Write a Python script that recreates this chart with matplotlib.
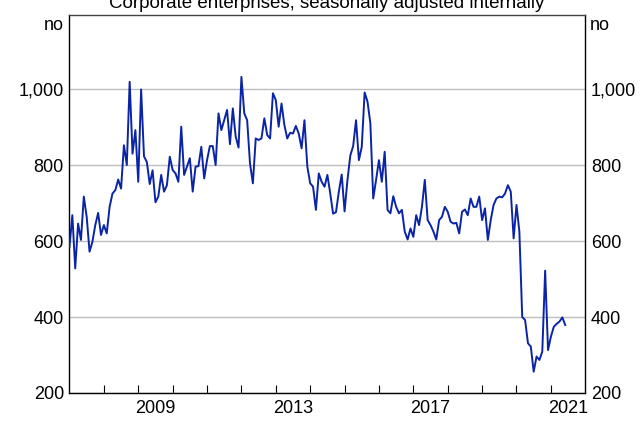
import numpy as np
import matplotlib
matplotlib.use('Agg')
import matplotlib.pyplot as plt
from matplotlib.ticker import FuncFormatter

plt.rcParams['font.family'] = ['Liberation Sans', 'DejaVu Sans']

# monthly values, first point is January 2007
start_year = 2007
v2007 = [585, 668, 528, 646, 603, 717, 664, 572, 598, 642, 674, 616]
v2008 = [642, 620, 690, 725, 734, 762, 738, 852, 800, 1019, 830, 892]
v2009 = [756, 999, 823, 808, 750, 786, 702, 717, 774, 730, 747, 822]
v2010 = [787, 778, 756, 901, 774, 796, 818, 730, 796, 797, 848, 765]
v2011 = [813, 850, 850, 800, 936, 892, 918, 945, 855, 949, 875, 846]
v2012 = [1032, 936, 918, 804, 752, 870, 866, 870, 923, 879, 870, 989]
v2013 = [971, 901, 962, 905, 870, 885, 883, 903, 883, 844, 918, 796]
v2014 = [752, 743, 682, 778, 756, 743, 774, 725, 672, 676, 730, 775]
v2015 = [678, 760, 825, 850, 918, 813, 848, 991, 967, 910, 712, 761]
v2016 = [813, 756, 835, 682, 673, 718, 690, 673, 682, 625, 604, 633]
v2017 = [611, 668, 642, 690, 761, 655, 642, 625, 604, 655, 664, 690]
v2018 = [677, 651, 646, 648, 620, 677, 683, 668, 712, 690, 690, 717]
v2019 = [655, 686, 603, 655, 695, 712, 717, 715, 725, 747, 730, 607]
v2020 = [695, 625, 400, 392, 331, 322, 256, 296, 287, 309, 522, 313]
v2021 = [348, 374, 382, 388, 399, 379]

counts = (v2007 + v2008 + v2009 + v2010 + v2011 + v2012 + v2013 + v2014
          + v2015 + v2016 + v2017 + v2018 + v2019 + v2020 + v2021)
years = start_year + np.arange(len(counts)) / 12

yticks = [200, 400, 600, 800, 1000]
year_labels = ['2009', '2013', '2017', '2021']

fig = plt.figure(figsize=(6.44, 4.26), dpi=100)
ax = fig.add_axes([0.1079, 0.0775, 0.8009, 0.8873])

ax.plot(years, counts, color='#0b24a6', lw=1.4, zorder=3)

ax.set_xlim(2007, 2022)
ax.set_ylim(200, 1195)

ax.set_yticks(yticks)
ax.yaxis.set_major_formatter(FuncFormatter(lambda v, p: f'{v:,.0f}'))
ax.tick_params(axis='y', length=0, labelsize=13, pad=4,
               labelleft=True, labelright=True)
ax.grid(axis='y', color='#bdbdbd', lw=1)
ax.set_axisbelow(True)

ax.set_xticks(range(2008, 2022))
ax.set_xticklabels([])
ax.set_xticks([int(s) + 0.5 for s in year_labels], minor=True)
ax.set_xticklabels(year_labels, minor=True)
ax.tick_params(axis='x', which='major', direction='in', length=6, width=0.8)
ax.tick_params(axis='x', which='minor', length=0, labelsize=13, pad=5)

for s in ['left', 'right', 'bottom']:
    ax.spines[s].set_color('black')
    ax.spines[s].set_linewidth(1)
ax.spines['top'].set_color('#444444')
ax.spines['top'].set_linewidth(1)

ax.annotate('no', xy=(0, 1155), xycoords=('axes fraction', 'data'),
            xytext=(-4, 0), textcoords='offset points',
            ha='right', va='baseline', fontsize=13)
ax.annotate('no', xy=(1, 1155), xycoords=('axes fraction', 'data'),
            xytext=(3, 0), textcoords='offset points',
            ha='left', va='baseline', fontsize=13)

fig.text(0.508, 1 - 8 / 426, 'Corporate enterprises, seasonally adjusted internally',
         ha='center', va='baseline', fontsize=13.5)

fig.savefig('out.png', dpi=100)
